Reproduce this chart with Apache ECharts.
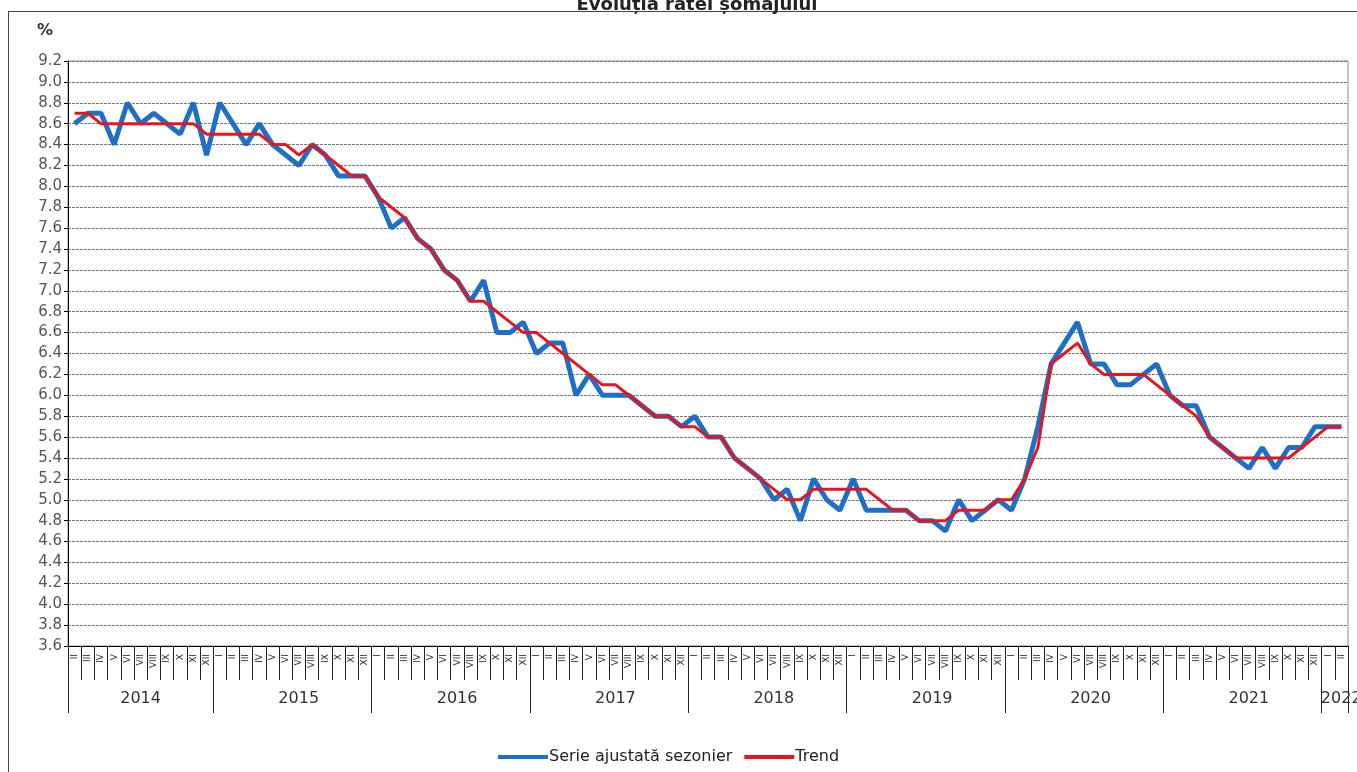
<!DOCTYPE html>
<html>
<head>
<meta charset="utf-8">
<script src="https://cdn.jsdelivr.net/npm/echarts@6/dist/echarts.min.js"></script>
<style>
  html, body { margin: 0; padding: 0; background: #fff; overflow: hidden; width: 1357px; height: 772px; }
  #frame { position: absolute; left: 8px; top: 11px; width: 1349px; height: 761px; border-left: 1px solid #444; border-top: 1px solid #444; z-index: 0; box-sizing: border-box; }
  #chart { position: absolute; left: 0; top: 0; width: 1357px; height: 772px; z-index: 1; }
</style>
</head>
<body>
<div id="frame"></div>
<div id="chart"></div>
<script>
// ---- data ----
const titleText = 'Evoluția ratei șomajului';
const monthLabels = ['I','II','III','IV','V','VI','VII','VIII','IX','X','XI','XII'];
const yearLabels = ['2014','2015','2016','2017','2018','2019','2020','2021','2022'];
const firstMonth = 2;            // series starts in February 2014
const monthsPerYear = [11,12,12,12,12,12,12,12,2];
const seasonallyAdjusted = [
  8.6,8.7,8.7,8.4,8.8,8.6,8.7,8.6,8.5,8.8,8.3,
  8.8,8.6,8.4,8.6,8.4,8.3,8.2,8.4,8.3,8.1,8.1,8.1,
  7.9,7.6,7.7,7.5,7.4,7.2,7.1,6.9,7.1,6.6,6.6,6.7,
  6.4,6.5,6.5,6.0,6.2,6.0,6.0,6.0,5.9,5.8,5.8,5.7,
  5.8,5.6,5.6,5.4,5.3,5.2,5.0,5.1,4.8,5.2,5.0,4.9,
  5.2,4.9,4.9,4.9,4.9,4.8,4.8,4.7,5.0,4.8,4.9,5.0,
  4.9,5.2,5.7,6.3,6.5,6.7,6.3,6.3,6.1,6.1,6.2,6.3,
  6.0,5.9,5.9,5.6,5.5,5.4,5.3,5.5,5.3,5.5,5.5,5.7,
  5.7,5.7
];
const trend = [
  8.7,8.7,8.6,8.6,8.6,8.6,8.6,8.6,8.6,8.6,8.5,
  8.5,8.5,8.5,8.5,8.4,8.4,8.3,8.4,8.3,8.2,8.1,8.1,
  7.9,7.8,7.7,7.5,7.4,7.2,7.1,6.9,6.9,6.8,6.7,6.6,
  6.6,6.5,6.4,6.3,6.2,6.1,6.1,6.0,5.9,5.8,5.8,5.7,
  5.7,5.6,5.6,5.4,5.3,5.2,5.1,5.0,5.0,5.1,5.1,5.1,
  5.1,5.1,5.0,4.9,4.9,4.8,4.8,4.8,4.9,4.9,4.9,5.0,
  5.0,5.2,5.5,6.3,6.4,6.5,6.3,6.2,6.2,6.2,6.2,6.1,
  6.0,5.9,5.8,5.6,5.5,5.4,5.4,5.4,5.4,5.4,5.5,5.6,
  5.7,5.7
];
const yTicks = { min: 3.6, max: 9.2, interval: 0.2 };

// ---- build categories ----
const categories = [];
const yearLabelIndex = {};
let m = firstMonth;
yearLabels.forEach((y, yi) => {
  const start = categories.length;
  for (let k = 0; k < monthsPerYear[yi]; k++) {
    categories.push(y + '-' + String(m).padStart(2, '0'));
    m = m === 12 ? 1 : m + 1;
  }
  const n = monthsPerYear[yi];
  const mid = start + Math.floor((n - 1) / 2);
  yearLabelIndex[mid] = n % 2 === 0 ? 'e' : 'o';
});

const FONT = 'DejaVu Sans';
const chart = echarts.init(document.getElementById('chart'), null, { width: 1357, height: 772 });
chart.setOption({
  backgroundColor: 'transparent',
  animation: false,
  title: {
    text: titleText,
    left: 692, textAlign: 'center', top: -9,
    textStyle: { fontFamily: FONT, fontSize: 18, fontWeight: 'bold', color: '#222' }
  },
  legend: {
    left: 493, top: 744,
    itemWidth: 50, itemHeight: 4, itemGap: 12,
    icon: 'rect',
    textStyle: { fontFamily: FONT, fontSize: 16, color: '#222', padding: [0, 0, 0, -4] },
    data: ['Serie ajustată sezonier', 'Trend']
  },
  grid: {
    left: 68, right: 9, top: 61, bottom: 126,
    show: true, borderColor: '#8a8a8a', borderWidth: 1,
    containLabel: false, outerBoundsMode: 'none'
  },
  xAxis: [
    {
      type: 'category', data: categories, boundaryGap: true, position: 'bottom',
      axisLine: { lineStyle: { color: '#000', width: 1 } },
      axisTick: { show: true, interval: 0, length: 34, lineStyle: { color: '#222' } },
      axisLabel: {
        interval: 0, rotate: 90, margin: 8, fontFamily: FONT, fontSize: 9, color: '#333',
        formatter: v => monthLabels[parseInt(v.slice(5), 10) - 1]
      },
      splitLine: { show: false }
    },
    {
      type: 'category', data: categories, boundaryGap: true, position: 'bottom',
      axisLine: { show: false },
      axisTick: {
        show: true, length: 67, lineStyle: { color: '#222' },
        interval: (i, v) => i === 0 || v.slice(5) === '01'
      },
      axisLabel: {
        margin: 45, fontFamily: FONT, fontSize: 16, color: '#333',
        interval: (i) => yearLabelIndex[i] !== undefined,
        formatter: (v, i) => '{' + (yearLabelIndex[i] || 'o') + '|' + v.slice(0, 4) + '}',
        rich: {
          o: { fontFamily: FONT, fontSize: 16, color: '#333' },
          e: { fontFamily: FONT, fontSize: 16, color: '#333', padding: [0, 0, 0, 26] }
        }
      },
      splitLine: { show: false }
    }
  ],
  yAxis: {
    type: 'value', min: yTicks.min, max: yTicks.max, interval: yTicks.interval,
    name: '%', nameLocation: 'end', nameGap: 22,
    nameTextStyle: { fontFamily: FONT, fontSize: 16, fontWeight: 'bold', color: '#333', align: 'center', padding: [0, 46, 0, 0] },
    axisLine: { show: true, lineStyle: { color: '#000', width: 1 } },
    axisTick: { show: true, length: 4, lineStyle: { color: '#000' } },
    axisLabel: { margin: 6, fontFamily: FONT, fontSize: 15, color: '#555', formatter: v => v.toFixed(1) },
    splitLine: { show: true, lineStyle: { color: '#7a7a7a', width: 1, type: [3, 1] } }
  },
  series: [
    {
      name: 'Serie ajustată sezonier', type: 'line', data: seasonallyAdjusted,
      symbol: 'none', lineStyle: { color: '#1f6fc6', width: 5 }, itemStyle: { color: '#1f6fc6' }
    },
    {
      name: 'Trend', type: 'line', data: trend,
      symbol: 'none', lineStyle: { color: '#e3171f', width: 3 }, itemStyle: { color: '#e3171f' }
    }
  ]
});
</script>
</body>
</html>
